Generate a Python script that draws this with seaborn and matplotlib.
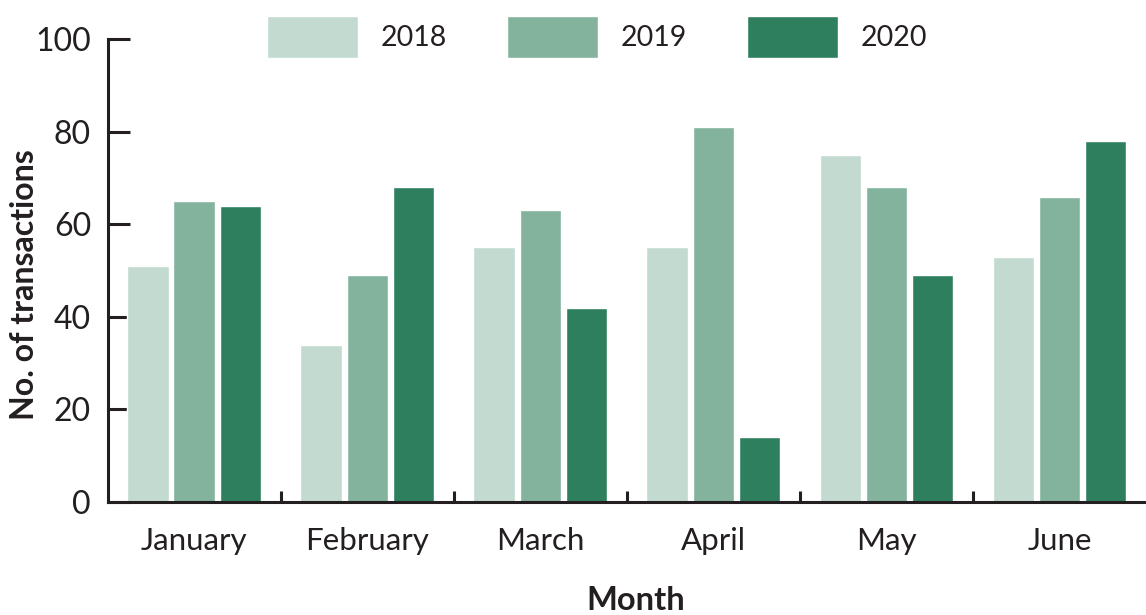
import pandas as pd
import matplotlib
matplotlib.use('Agg')
import matplotlib.pyplot as plt
import seaborn as sns
from matplotlib.ticker import FixedLocator

months = ['January', 'February', 'March', 'April', 'May', 'June']
years = ['2018', '2019', '2020']
tx_2018 = [51, 34, 55, 55, 75, 53]
tx_2019 = [65, 49, 63, 81, 68, 66]
tx_2020 = [64, 68, 42, 14, 49, 78]
colors = ['#c3dad0', '#83b29d', '#2e7f5e']
ink = '#231f20'

df = pd.DataFrame({
    'Month': months * 3,
    'Year': [y for y in years for _ in months],
    'Transactions': tx_2018 + tx_2019 + tx_2020,
})

sns.set_style('white')
plt.rcParams['font.family'] = ['Lato', 'DejaVu Sans']

fig = plt.figure(figsize=(11.46, 6.15), dpi=100)
ax = fig.add_axes([0.094, 0.184, 0.906, 0.752])
sns.barplot(data=df, x='Month', y='Transactions', hue='Year', palette=colors,
            width=0.8, gap=0.1, saturation=1, ax=ax)

# axes styling
for side in ['top', 'right']:
    ax.spines[side].set_visible(False)
for side in ['left', 'bottom']:
    ax.spines[side].set_linewidth(2.2)
    ax.spines[side].set_color(ink)
ax.set_ylim(0, 100)
ax.set_xlim(-0.5, 5.5)
ax.set_yticks([0, 20, 40, 60, 80, 100])
ax.tick_params(axis='y', left=True, direction='in', length=16, width=2.2, color=ink,
               pad=12, labelsize=23, labelcolor=ink)
ax.tick_params(axis='x', which='major', bottom=True, length=0, pad=18,
               labelsize=22.5, labelcolor=ink)
ax.xaxis.set_minor_locator(FixedLocator([0.5, 1.5, 2.5, 3.5, 4.5]))
ax.tick_params(axis='x', which='minor', bottom=True, direction='in', length=8,
               width=2.2, color=ink)
ax.set_xlabel('')
ax.set_ylabel('')

fig.text(25 / 1146, 1 - 285 / 615, 'No. of transactions', rotation=90,
         ha='center', va='center', fontsize=23, fontweight='bold', color=ink)
fig.text(636 / 1146, 0.024, 'Month', ha='center', va='center',
         fontsize=23.5, fontweight='bold', color=ink)

ax.legend(ncol=3, frameon=False, loc='center', bbox_to_anchor=(0.521, 0.94),
          bbox_transform=fig.transFigure, fontsize=20.5, handlelength=3.2,
          handleheight=1.9, handletextpad=0.8, columnspacing=2.1, labelcolor=ink)

fig.savefig('out.png', dpi=100)
